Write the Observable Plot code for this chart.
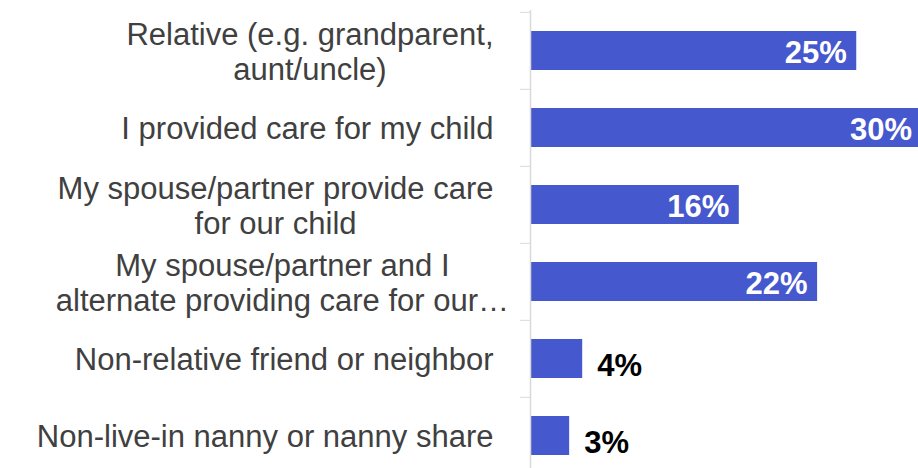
<!DOCTYPE html>
<html>
<head>
<meta charset="utf-8">
<script src="https://cdn.jsdelivr.net/npm/d3@7"></script>
<script src="https://cdn.jsdelivr.net/npm/@observablehq/plot@0.6"></script>
<style>
  html, body { margin: 0; padding: 0; background: #ffffff; }
  #chart svg { display: block; }
</style>
</head>
<body>
<div id="chart"></div>
<script>
// ---- data ----
const categories = [
  "Relative (e.g. grandparent, aunt/uncle)",
  "I provided care for my child",
  "My spouse/partner provide care for our child",
  "My spouse/partner and I alternate providing care for our child",
  "Non-relative friend or neighbor",
  "Non-live-in nanny or nanny share"
];
const categoryLabels = [
  "Relative (e.g. grandparent,\naunt/uncle)",
  "I provided care for my child",
  "My spouse/partner provide care\nfor our child",
  "My spouse/partner and I\nalternate providing care for our…",
  "Non-relative friend or neighbor",
  "Non-live-in nanny or nanny share"
];
const values = [25, 30, 16, 22, 4, 3];
const valueLabels = ["25%", "30%", "16%", "22%", "4%", "3%"];

const data = categories.map((c, i) => ({
  category: c, label: categoryLabels[i], value: values[i], text: valueLabels[i]
}));

// ---- layout ----
const yRange = [11, 475];
const step = (yRange[1] - yRange[0]) / categories.length;
const font = "'Liberation Sans', Arial, sans-serif";

const chart = Plot.plot({
  width: 918,
  height: 468,
  marginLeft: 530,
  marginRight: 0,
  marginTop: 10,
  marginBottom: 0,
  style: { fontFamily: font, background: "#ffffff", overflow: "hidden" },
  x: { domain: [0, 30], range: [530, 921.5], axis: null },
  y: { domain: categories, range: yRange, paddingInner: 0.5, paddingOuter: 0.25, axis: null, label: null },
  marks: [
    Plot.barX(data, { y: "category", x: "value", fill: "#4658CD" }),
    Plot.ruleX([0], { stroke: "#d9d9d9", strokeWidth: 1.5 }),
    Plot.axisY({ anchor: "left", tickSize: 10, tickFormat: () => "", label: null, stroke: "#d9d9d9", dy: -step / 2 }),
    Plot.text(data, {
      y: "category", text: "label", frameAnchor: "left", textAnchor: "end",
      dx: -37, fontSize: 31, lineHeight: 1.13, fill: "#404040"
    }),
    Plot.text(data.filter(d => d.value >= 10), {
      x: "value", y: "category", text: "text", textAnchor: "end",
      dx: -10, dy: 2, fill: "#ffffff", fontWeight: "bold", fontSize: 31
    }),
    Plot.text(data.filter(d => d.value < 10), {
      x: "value", y: "category", text: "text", textAnchor: "start",
      dx: 14.5, dy: 7, fill: "#000000", fontWeight: "bold", fontSize: 31
    })
  ]
});

document.getElementById("chart").appendChild(chart);

// center the lines of wrapped labels within a right-aligned block
const wrapped = new Set(categoryLabels.filter(s => s.includes("\n")).map(s => s.replace("\n", "")));
chart.querySelectorAll("text").forEach(t => {
  const spans = Array.from(t.querySelectorAll("tspan"));
  if (spans.length < 2) return;
  if (!wrapped.has(t.textContent)) return;
  const widths = spans.map(s => {
    const str = s.textContent;
    const n = str.endsWith("…") ? str.length - 1 : str.length;
    let w;
    try { w = s.getSubStringLength(0, n); } catch (e) { w = s.getComputedTextLength(); }
    return w;
  });
  const maxW = Math.max(...widths);
  t.setAttribute("text-anchor", "middle");
  t.style.textAnchor = "middle";
  spans.forEach(s => s.setAttribute("x", String(-maxW / 2)));
});
</script>
</body>
</html>
